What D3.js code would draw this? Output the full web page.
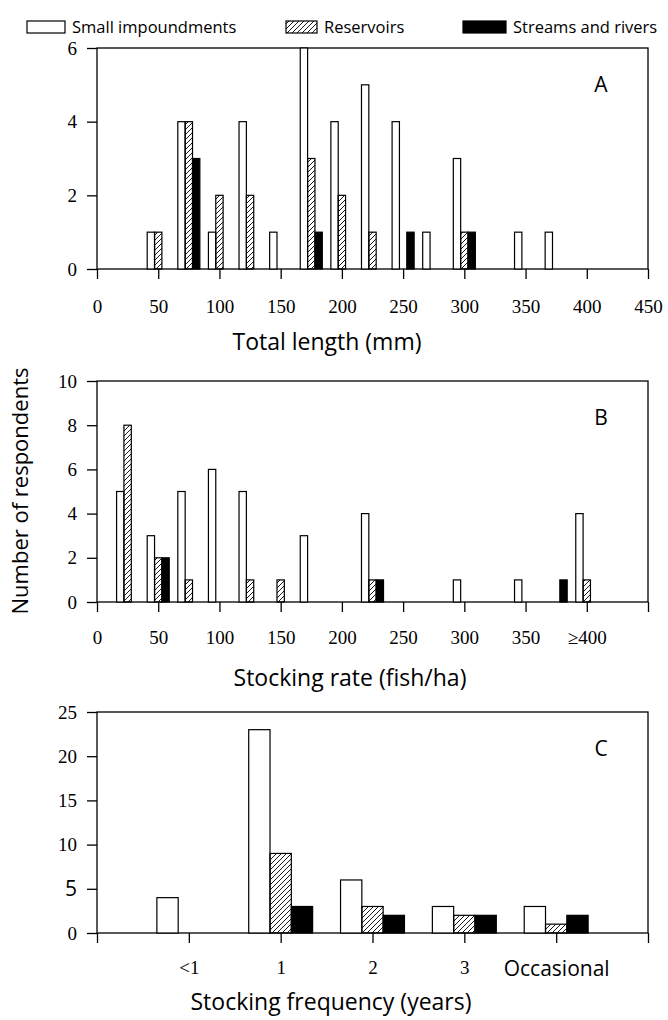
<!DOCTYPE html>
<html>
<head>
<meta charset="utf-8">
<script src="https://cdn.jsdelivr.net/npm/d3@7"></script>
<style>
  body { margin: 0; background: #fff; }
  svg { display: block; }
  .num text { font-family: "Liberation Serif", serif; font-size: 19px; fill: #000; }
  .lbl { font-family: "Open Sans", sans-serif; fill: #000; }
</style>
</head>
<body>
<script>
// A: total length (mm)
var lengthCats = [50, 75, 100, 125, 150, 175, 200, 225, 250, 275, 300, 325, 350, 375];
var lengthSmall = [1, 4, 1, 4, 1, 6, 4, 5, 4, 1, 3, 0, 1, 1];
var lengthRes = [1, 4, 2, 2, 0, 3, 2, 1, 0, 0, 1, 0, 0, 0];
var lengthStream = [0, 3, 0, 0, 0, 1, 0, 0, 1, 0, 1, 0, 0, 0];
var lengthTicks = [0, 50, 100, 150, 200, 250, 300, 350, 400, 450];

// B: stocking rate (fish/ha)
var rateCats = [25, 50, 75, 100, 125, 150, 175, 200, 225, 250, 275, 300, 325, 350, 375, 400];
var rateSmall = [5, 3, 5, 6, 5, 0, 3, 0, 4, 0, 0, 1, 0, 1, 0, 4];
var rateRes = [8, 2, 1, 0, 1, 1, 0, 0, 1, 0, 0, 0, 0, 0, 0, 1];
var rateStream = [0, 2, 0, 0, 0, 0, 0, 0, 1, 0, 0, 0, 0, 0, 1, 0];
var rateTicks = [0, 50, 100, 150, 200, 250, 300, 350, 400, 450];
var rateTickLabels = ["0", "50", "100", "150", "200", "250", "300", "350", "\u2265400", ""];

// C: stocking frequency (years)
var freqCats = ["<1", "1", "2", "3", "Occasional"];
var freqSmall = [4, 23, 6, 3, 3];
var freqRes = [0, 9, 3, 2, 1];
var freqStream = [0, 3, 2, 2, 2];

var seriesNames = ["Small impoundments", "Reservoirs", "Streams and rivers"];
var fills = ["#fff", "url(#hatch)", "#000"];

var W = 668, H = 1020;
var left = 97, right = 648;

var svg = d3.select("body").append("svg").attr("width", W).attr("height", H);

svg.append("defs").append("pattern")
  .attr("id", "hatch")
  .attr("patternUnits", "userSpaceOnUse")
  .attr("width", 5).attr("height", 5)
  .append("path")
  .attr("d", "M-1,1 l2,-2 M0,5 l5,-5 M4,6 l2,-2")
  .attr("stroke", "#000").attr("stroke-width", 0.9);

// legend
var legX = [27, 286, 463];
var legW = [38, 31, 43];
var legend = svg.append("g");
seriesNames.forEach(function(n, i) {
  legend.append("rect")
    .attr("x", legX[i]).attr("y", 21).attr("width", legW[i]).attr("height", 12)
    .attr("fill", fills[i]).attr("stroke", "#000").attr("stroke-width", 1.2);
  legend.append("text").attr("class", "lbl")
    .attr("x", legX[i] + legW[i] + 7).attr("y", 33)
    .style("font-size", "16.5px").text(n);
});

function panel(top, ymax, yticks, xScale, xTicks, xLabels, cats, series, barW, letter, title, titleX, titleDy, labPad) {
  var zero = top + 221;
  var y = d3.scaleLinear().domain([0, ymax]).range([zero, top]);
  var g = svg.append("g");

  g.append("rect")
    .attr("x", left).attr("y", top).attr("width", right - left).attr("height", zero - top)
    .attr("fill", "none").attr("stroke", "#000").attr("stroke-width", 1.3);

  series.forEach(function(vals, s) {
    g.append("g").selectAll("rect")
      .data(cats.map(function(c, i) { return {c: c, v: vals[i]}; }).filter(function(d) { return d.v > 0; }))
      .enter().append("rect")
      .attr("x", function(d) { return xScale(d.c) + (s - 1.5) * barW; })
      .attr("y", function(d) { return y(d.v); })
      .attr("width", barW)
      .attr("height", function(d) { return zero - y(d.v); })
      .attr("fill", fills[s])
      .attr("stroke", "#000").attr("stroke-width", 1.2);
  });

  var yAxis = d3.axisLeft(y).tickValues(yticks).tickSize(10).tickPadding(10).tickSizeOuter(0)
    .tickFormat(d3.format("d"));
  g.append("g").attr("class", "num").attr("transform", "translate(" + left + ",0)").call(yAxis);

  var xAxis = d3.axisBottom(xScale).tickValues(xTicks).tickSize(10).tickPadding(labPad).tickSizeOuter(0)
    .tickFormat(function(d, i) { return xLabels[i]; });
  g.append("g").attr("class", "num").attr("transform", "translate(0," + zero + ")").call(xAxis);

  g.selectAll(".domain").remove();
  g.selectAll(".tick line").attr("stroke", "#000").attr("stroke-width", 1.3);

  g.append("text").attr("class", "lbl")
    .attr("x", 601).attr("y", top + 44)
    .attr("text-anchor", "middle")
    .style("font-size", "21px").text(letter);

  g.append("text").attr("class", "lbl")
    .attr("x", titleX).attr("y", zero + titleDy)
    .attr("text-anchor", "middle")
    .style("font-size", "23px").text(title);
  return g;
}

var xA = d3.scaleLinear().domain([0, 450]).range([left, right]);
panel(48, 6, [0, 2, 4, 6], xA, lengthTicks, lengthTicks.map(String),
  lengthCats, [lengthSmall, lengthRes, lengthStream], xA(6) - xA(0), "A", "Total length (mm)", 327, 81, 21);

var xB = d3.scaleLinear().domain([0, 450]).range([left, right]);
panel(381, 10, [0, 2, 4, 6, 8, 10], xB, rateTicks, rateTickLabels,
  rateCats, [rateSmall, rateRes, rateStream], xB(6) - xB(0), "B", "Stocking rate (fish/ha)", 350, 84, 19);

var xC = d3.scaleLinear().domain([0, 6]).range([left, right]);
var cPos = freqCats.map(function(d, i) { return i + 1; });
var gC = panel(712, 25, [0, 5, 10, 15, 20, 25], xC, [0, 1, 2, 3, 4, 5, 6], [""].concat(freqCats, [""]),
  cPos, [freqSmall, freqRes, freqStream], xC(0.232) - xC(0), "C", "Stocking frequency (years)", 331, 77, 18);
gC.selectAll(".tick text").filter(function(d) { return d === 5; })
  .style("font-family", "'Open Sans', sans-serif").style("font-size", "21px");

// y title
svg.append("text").attr("class", "lbl")
  .attr("transform", "translate(28,491) rotate(-90)")
  .attr("text-anchor", "middle")
  .style("font-size", "22px").text("Number of respondents");
</script>
</body>
</html>
